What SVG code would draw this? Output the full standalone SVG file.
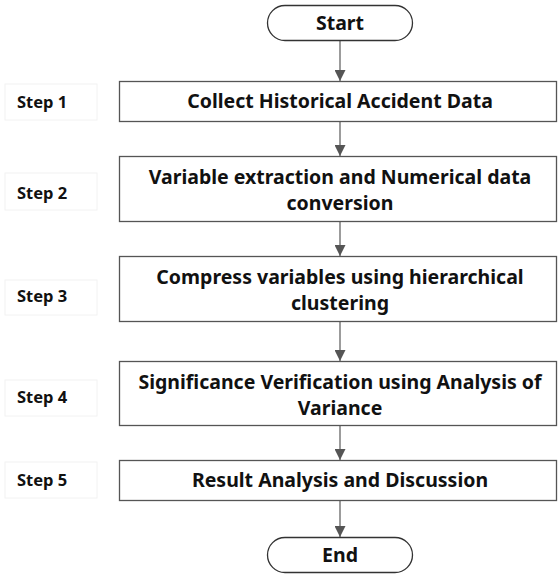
<svg xmlns="http://www.w3.org/2000/svg" width="558" height="575" viewBox="0 0 558 575">
<style>
.box{fill:#fff;stroke:#555;stroke-width:1.3}
.term{fill:#fff;stroke:#333;stroke-width:1.3}
.lbl{fill:#fff;stroke:#f2f2f2;stroke-width:1}
.t{font-family:"Noto Sans","Open Sans",sans-serif;font-weight:bold;font-size:19.5px;fill:#111;text-anchor:middle}
.s{font-family:"Noto Sans","Open Sans",sans-serif;font-weight:bold;font-size:16.5px;fill:#111}
.c{stroke:#666;stroke-width:1.3;fill:none;marker-end:url(#ah)}
</style>
<defs>
<marker id="ah" markerWidth="11" markerHeight="11" refX="10" refY="5" orient="auto" markerUnits="userSpaceOnUse" viewBox="0 0 10 10">
<path d="M0,0 L10,5 L0,10 Z" fill="#555"/>
</marker>
</defs>
<rect width="558" height="575" fill="#fff"/>
<g id="connectors">
<line class="c" x1="340" y1="41" x2="340" y2="81"/>
<line class="c" x1="340" y1="122" x2="340" y2="156"/>
<line class="c" x1="340" y1="222" x2="340" y2="256"/>
<line class="c" x1="340" y1="322" x2="340" y2="361"/>
<line class="c" x1="340" y1="426" x2="340" y2="460"/>
<line class="c" x1="340" y1="500" x2="340" y2="537"/>
</g>
<g id="start"><rect class="term" x="267.5" y="5.5" width="145" height="35" rx="17.5"/><text class="t" x="340" y="30">Start</text></g>
<g id="step1-label"><rect class="lbl" x="5" y="84" width="92" height="36"/><text class="s" x="17" y="108">Step 1</text></g>
<g id="step1"><rect class="box" x="119.5" y="81.5" width="437" height="40"/><text class="t" x="340" y="108">Collect Historical Accident Data</text></g>
<g id="step2-label"><rect class="lbl" x="5" y="173" width="92" height="37"/><text class="s" x="17" y="199">Step 2</text></g>
<g id="step2"><rect class="box" x="119.5" y="156.5" width="437" height="65"/><text class="t" x="340" y="184">Variable extraction and Numerical data</text><text class="t" x="340" y="210">conversion</text></g>
<g id="step3-label"><rect class="lbl" x="5" y="280" width="92" height="35"/><text class="s" x="17" y="302">Step 3</text></g>
<g id="step3"><rect class="box" x="119.5" y="256.5" width="437" height="65"/><text class="t" x="340" y="284">Compress variables using hierarchical</text><text class="t" x="340" y="310">clustering</text></g>
<g id="step4-label"><rect class="lbl" x="5" y="380" width="92" height="36"/><text class="s" x="17" y="403">Step 4</text></g>
<g id="step4"><rect class="box" x="119.5" y="361.5" width="437" height="64"/><text class="t" x="340" y="389">Significance Verification using Analysis of</text><text class="t" x="340" y="415">Variance</text></g>
<g id="step5-label"><rect class="lbl" x="5" y="462" width="92" height="36"/><text class="s" x="17" y="486">Step 5</text></g>
<g id="step5"><rect class="box" x="119.5" y="460.5" width="437" height="40"/><text class="t" x="340" y="487">Result Analysis and Discussion</text></g>
<g id="end"><rect class="term" x="267.5" y="537.5" width="145" height="35" rx="17.5"/><text class="t" x="340" y="562">End</text></g>
</svg>
